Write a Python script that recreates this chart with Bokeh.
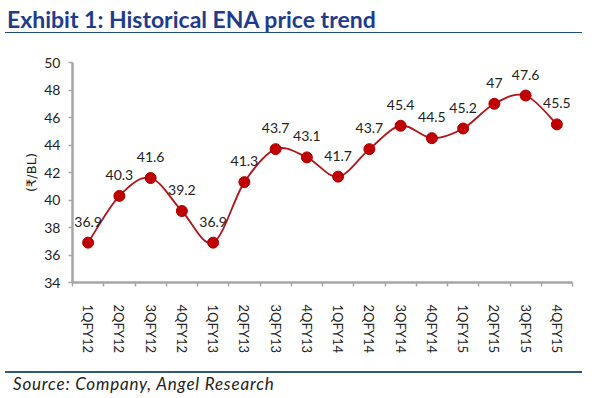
from bokeh.plotting import figure
from bokeh.models import Range1d, FixedTicker, ColumnDataSource, Div
from bokeh.layouts import column
from bokeh.core.properties import value
from bokeh.embed import file_html
from bokeh.resources import INLINE

quarters = ["1QFY12", "2QFY12", "3QFY12", "4QFY12", "1QFY13", "2QFY13", "3QFY13", "4QFY13",
            "1QFY14", "2QFY14", "3QFY14", "4QFY14", "1QFY15", "2QFY15", "3QFY15", "4QFY15"]
prices = [36.9, 40.3, 41.6, 39.2, 36.9, 41.3, 43.7, 43.1, 41.7, 43.7, 45.4, 44.5, 45.2, 47, 47.6, 45.5]
price_labels = ["36.9", "40.3", "41.6", "39.2", "36.9", "41.3", "43.7", "43.1",
                "41.7", "43.7", "45.4", "44.5", "45.2", "47", "47.6", "45.5"]
y_ticks = [34, 36, 38, 40, 42, 44, 46, 48, 50]
title_text = "Exhibit 1: Historical ENA price trend"
source_text = "Source: Company, Angel Research"

W = 579
TH, PH, SH = 28, 328, 24

title_div = Div(width=W, height=TH, text=(
    '<div style="width:%dpx;height:%dpx;box-sizing:border-box;padding-left:2px;padding-top:2px;'
    'border-bottom:1.5px solid #1f4e79;font-family:Lato;font-weight:bold;font-size:23px;'
    'line-height:24px;color:#1f3c8c;white-space:nowrap;">%s</div>' % (W - 2, TH, title_text)))
source_div = Div(width=W, height=SH, text=(
    '<div style="width:%dpx;height:%dpx;box-sizing:border-box;padding-left:8px;'
    'border-top:2px solid #2d5a78;font-family:Lato;font-style:italic;font-size:17px;'
    'letter-spacing:0.8px;line-height:21px;color:#222222;white-space:nowrap;">%s</div>'
    % (W - 2, SH, source_text)))

p = figure(width=W, height=PH, output_backend="svg", toolbar_location=None,
           x_range=Range1d(-0.5, len(quarters) - 0.5), y_range=Range1d(34, 50),
           min_border_left=72, min_border_right=7, min_border_top=24, min_border_bottom=84)
p.outline_line_color = None
p.xgrid.grid_line_color = None
p.ygrid.grid_line_color = None
p.background_fill_color = "white"
p.border_fill_color = "white"

xs = list(range(len(quarters)))

# smooth curve (Catmull-Rom style bezier through the data points)
n = len(prices)
x0, y0, x1, y1, cx0, cy0, cx1, cy1 = [], [], [], [], [], [], [], []
for i in range(n - 1):
    xm = xs[i - 1] if i > 0 else xs[i]
    ym = prices[i - 1] if i > 0 else prices[i]
    xp2 = xs[i + 2] if i + 2 < n else xs[i + 1]
    yp2 = prices[i + 2] if i + 2 < n else prices[i + 1]
    x0.append(xs[i]); y0.append(prices[i])
    x1.append(xs[i + 1]); y1.append(prices[i + 1])
    cx0.append(xs[i] + (xs[i + 1] - xm) / 6); cy0.append(prices[i] + (prices[i + 1] - ym) / 6)
    cx1.append(xs[i + 1] - (xp2 - xs[i]) / 6); cy1.append(prices[i + 1] - (yp2 - prices[i]) / 6)
p.bezier(x0=x0, y0=y0, x1=x1, y1=y1, cx0=cx0, cy0=cy0, cx1=cx1, cy1=cy1,
         line_color="#b0151b", line_width=1.8)

src = ColumnDataSource(dict(x=xs, y=prices, t=price_labels))
p.scatter("x", "y", source=src, size=11, fill_color="#c00000", line_color="#b00000")
p.text("x", "y", text="t", source=src, text_align="center", text_baseline="middle",
       y_offset=-21, text_font=value("Lato"), text_font_size="14px", text_color="#222222")

# axes
xa = p.xaxis[0]
xa.ticker = FixedTicker(ticks=xs, minor_ticks=[i - 0.5 for i in range(len(quarters) + 1)])
xa.major_label_overrides = {i: q for i, q in enumerate(quarters)}
xa.major_label_orientation = "vertical"
xa.major_tick_out = 0
xa.major_tick_in = 0
xa.minor_tick_out = 4
xa.minor_tick_in = 0
xa.minor_tick_line_color = "#a6a6a6"
xa.minor_tick_line_width = 1.5
xa.axis_line_color = "#a6a6a6"
xa.axis_line_width = 2.5
xa.major_label_standoff = 18
xa.major_label_text_font = "Lato"
xa.major_label_text_font_size = "13px"
xa.major_label_text_color = "#222222"

ya = p.yaxis[0]
ya.ticker = FixedTicker(ticks=y_ticks, minor_ticks=[])
ya.major_tick_out = 4
ya.major_tick_in = 0
ya.major_tick_line_color = "#a6a6a6"
ya.major_tick_line_width = 1.5
ya.axis_line_color = "#a6a6a6"
ya.axis_line_width = 2.5
ya.major_label_standoff = 8
ya.major_label_text_font = "Lato"
ya.major_label_text_font_size = "14px"
ya.major_label_text_color = "#222222"
ya.axis_label = "(₹/BL)"
ya.axis_label_text_font = "DejaVu Sans"
ya.axis_label_text_font_style = "normal"
ya.axis_label_text_font_size = "13px"
ya.axis_label_text_color = "#222222"
ya.axis_label_standoff = 2

layout = column(title_div, p, source_div, spacing=0)
open("out.html", "w").write(file_html(layout, INLINE))
